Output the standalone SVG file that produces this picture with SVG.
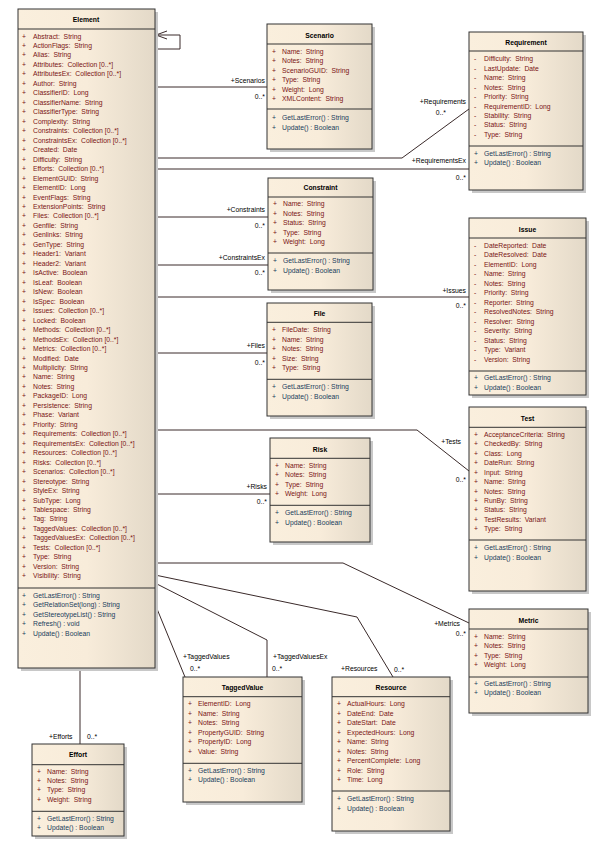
<svg xmlns="http://www.w3.org/2000/svg" width="601" height="844" viewBox="0 0 601 844">
<defs>
<linearGradient id="g" x1="0" y1="0" x2="1" y2="0"><stop offset="0" stop-color="#faefdd"/><stop offset="0.5" stop-color="#f8ecda"/><stop offset="1" stop-color="#e3d9c8"/></linearGradient>
<style>
text{font-family:"Liberation Sans",Arial,sans-serif;font-size:6.8px;dominant-baseline:central;white-space:pre}
.h{font-weight:bold;text-anchor:middle;fill:#000;font-size:6.8px}
.a{fill:#7a1414}
.o{fill:#1a3d5c}
.l{fill:#000}
.r{text-anchor:end}
.box{fill:url(#g);stroke:#333;stroke-width:1}
.sh{fill:#c8c8c8}
.d{stroke:#333;stroke-width:1}
.c{fill:none;stroke:#3a2a2a;stroke-width:1}
</style>
</defs>
<rect width="601" height="844" fill="#fff"/>
<g id="connectors">
<path class="c" d="M155,35 H180 V49 H155"/>
<path class="c" d="M167,31 L156,35 L167,39"/>
<path class="c" d="M155,87 H267"/>
<path class="c" d="M155,158 H402 L469,109"/>
<path class="c" d="M155,169 H469"/>
<path class="c" d="M155,217 H268"/>
<path class="c" d="M155,265 H268"/>
<path class="c" d="M155,297 H469"/>
<path class="c" d="M155,353 H267"/>
<path class="c" d="M155,430 H417 L469,471"/>
<path class="c" d="M155,494 H270"/>
<path class="c" d="M155,563 H343 L469,623"/>
<path class="c" d="M155,575 L357,617 L393,677"/>
<path class="c" d="M155,583 L267,640 V677"/>
<path class="c" d="M155,604 L185,677"/>
<path class="c" d="M80,668 V744"/>
<text class="l r" x="265" y="80">+Scenarios</text><text class="l r" x="265" y="96">0..*</text>
<text class="l r" x="466" y="101">+Requirements</text><text class="l r" x="446" y="112">0..*</text>
<text class="l r" x="466" y="160">+RequirementsEx</text><text class="l r" x="466" y="177">0..*</text>
<text class="l r" x="265" y="209">+Constraints</text><text class="l r" x="265" y="225">0..*</text>
<text class="l r" x="265" y="257">+ConstraintsEx</text><text class="l r" x="265" y="272">0..*</text>
<text class="l r" x="466" y="290">+Issues</text><text class="l r" x="466" y="305">0..*</text>
<text class="l r" x="265" y="345">+Files</text><text class="l r" x="265" y="362">0..*</text>
<text class="l r" x="461" y="441">+Tests</text><text class="l r" x="466" y="479">0..*</text>
<text class="l r" x="267" y="486">+Risks</text><text class="l r" x="267" y="501">0..*</text>
<text class="l r" x="460" y="623">+Metrics</text><text class="l r" x="466" y="633">0..*</text>
<text class="l" x="341" y="668">+Resources</text><text class="l" x="394" y="669">0..*</text>
<text class="l" x="273" y="656">+TaggedValuesEx</text><text class="l" x="272" y="668">0..*</text>
<text class="l" x="183" y="656">+TaggedValues</text><text class="l" x="190" y="668">0..*</text>
<text class="l" x="49" y="736">+Efforts</text><text class="l" x="87" y="736">0..*</text>
</g>
<g id="Element">
<rect class="sh" x="21" y="12" width="137" height="659"/>
<rect class="box" x="18" y="9" width="137" height="659"/>
<line class="d" x1="18" y1="29" x2="155" y2="29"/><line class="d" x1="18" y1="588" x2="155" y2="588"/>
<text class="h" x="86" y="19">Element</text>
<g class="a">
<text x="22" y="36">+</text><text x="33" y="36">Abstract:  String</text>
<text x="22" y="45.5">+</text><text x="33" y="45.5">ActionFlags:  String</text>
<text x="22" y="54.9">+</text><text x="33" y="54.9">Alias:  String</text>
<text x="22" y="64.4">+</text><text x="33" y="64.4">Attributes:  Collection [0..*]</text>
<text x="22" y="73.9">+</text><text x="33" y="73.9">AttributesEx:  Collection [0..*]</text>
<text x="22" y="83.4">+</text><text x="33" y="83.4">Author:  String</text>
<text x="22" y="92.8">+</text><text x="33" y="92.8">ClassifierID:  Long</text>
<text x="22" y="102.3">+</text><text x="33" y="102.3">ClassifierName:  String</text>
<text x="22" y="111.8">+</text><text x="33" y="111.8">ClassifierType:  String</text>
<text x="22" y="121.2">+</text><text x="33" y="121.2">Complexity:  String</text>
<text x="22" y="130.7">+</text><text x="33" y="130.7">Constraints:  Collection [0..*]</text>
<text x="22" y="140.2">+</text><text x="33" y="140.2">ConstraintsEx:  Collection [0..*]</text>
<text x="22" y="149.6">+</text><text x="33" y="149.6">Created:  Date</text>
<text x="22" y="159.1">+</text><text x="33" y="159.1">Difficulty:  String</text>
<text x="22" y="168.6">+</text><text x="33" y="168.6">Efforts:  Collection [0..*]</text>
<text x="22" y="178">+</text><text x="33" y="178">ElementGUID:  String</text>
<text x="22" y="187.5">+</text><text x="33" y="187.5">ElementID:  Long</text>
<text x="22" y="197">+</text><text x="33" y="197">EventFlags:  String</text>
<text x="22" y="206.5">+</text><text x="33" y="206.5">ExtensionPoints:  String</text>
<text x="22" y="215.9">+</text><text x="33" y="215.9">Files:  Collection [0..*]</text>
<text x="22" y="225.4">+</text><text x="33" y="225.4">Genfile:  String</text>
<text x="22" y="234.9">+</text><text x="33" y="234.9">Genlinks:  String</text>
<text x="22" y="244.3">+</text><text x="33" y="244.3">GenType:  String</text>
<text x="22" y="253.8">+</text><text x="33" y="253.8">Header1:  Variant</text>
<text x="22" y="263.3">+</text><text x="33" y="263.3">Header2:  Variant</text>
<text x="22" y="272.7">+</text><text x="33" y="272.7">IsActive:  Boolean</text>
<text x="22" y="282.2">+</text><text x="33" y="282.2">IsLeaf:  Boolean</text>
<text x="22" y="291.7">+</text><text x="33" y="291.7">IsNew:  Boolean</text>
<text x="22" y="301.1">+</text><text x="33" y="301.1">IsSpec:  Boolean</text>
<text x="22" y="310.6">+</text><text x="33" y="310.6">Issues:  Collection [0..*]</text>
<text x="22" y="320.1">+</text><text x="33" y="320.1">Locked:  Boolean</text>
<text x="22" y="329.6">+</text><text x="33" y="329.6">Methods:  Collection [0..*]</text>
<text x="22" y="339">+</text><text x="33" y="339">MethodsEx:  Collection [0..*]</text>
<text x="22" y="348.5">+</text><text x="33" y="348.5">Metrics:  Collection [0..*]</text>
<text x="22" y="358">+</text><text x="33" y="358">Modified:  Date</text>
<text x="22" y="367.4">+</text><text x="33" y="367.4">Multiplicity:  String</text>
<text x="22" y="376.9">+</text><text x="33" y="376.9">Name:  String</text>
<text x="22" y="386.4">+</text><text x="33" y="386.4">Notes:  String</text>
<text x="22" y="395.8">+</text><text x="33" y="395.8">PackageID:  Long</text>
<text x="22" y="405.3">+</text><text x="33" y="405.3">Persistence:  String</text>
<text x="22" y="414.8">+</text><text x="33" y="414.8">Phase:  Variant</text>
<text x="22" y="424.2">+</text><text x="33" y="424.2">Priority:  String</text>
<text x="22" y="433.7">+</text><text x="33" y="433.7">Requirements:  Collection [0..*]</text>
<text x="22" y="443.2">+</text><text x="33" y="443.2">RequirementsEx:  Collection [0..*]</text>
<text x="22" y="452.7">+</text><text x="33" y="452.7">Resources:  Collection [0..*]</text>
<text x="22" y="462.1">+</text><text x="33" y="462.1">Risks:  Collection [0..*]</text>
<text x="22" y="471.6">+</text><text x="33" y="471.6">Scenarios:  Collection [0..*]</text>
<text x="22" y="481.1">+</text><text x="33" y="481.1">Stereotype:  String</text>
<text x="22" y="490.5">+</text><text x="33" y="490.5">StyleEx:  String</text>
<text x="22" y="500">+</text><text x="33" y="500">SubType:  Long</text>
<text x="22" y="509.5">+</text><text x="33" y="509.5">Tablespace:  String</text>
<text x="22" y="518.9">+</text><text x="33" y="518.9">Tag:  String</text>
<text x="22" y="528.4">+</text><text x="33" y="528.4">TaggedValues:  Collection [0..*]</text>
<text x="22" y="537.9">+</text><text x="33" y="537.9">TaggedValuesEx:  Collection [0..*]</text>
<text x="22" y="547.3">+</text><text x="33" y="547.3">Tests:  Collection [0..*]</text>
<text x="22" y="556.8">+</text><text x="33" y="556.8">Type:  String</text>
<text x="22" y="566.3">+</text><text x="33" y="566.3">Version:  String</text>
<text x="22" y="575.8">+</text><text x="33" y="575.8">Visibility:  String</text>
</g>
<g class="o">
<text x="22" y="595.7">+</text><text x="33" y="595.7">GetLastError() : String</text>
<text x="22" y="604.7">+</text><text x="33" y="604.7">GetRelationSet(long) : String</text>
<text x="22" y="614.3">+</text><text x="33" y="614.3">GetStereotypeList() : String</text>
<text x="22" y="623.3">+</text><text x="33" y="623.3">Refresh() : void</text>
<text x="22" y="633.3">+</text><text x="33" y="633.3">Update() : Boolean</text>
</g>
</g>
<g id="Scenario">
<rect class="sh" x="270" y="27" width="105" height="125"/>
<rect class="box" x="267" y="24" width="105" height="125"/>
<line class="d" x1="267" y1="44" x2="372" y2="44"/><line class="d" x1="267" y1="109" x2="372" y2="109"/>
<text class="h" x="319.5" y="35.7">Scenario</text>
<g class="a">
<text x="272" y="51.5">+</text><text x="282" y="51.5">Name:  String</text>
<text x="272" y="60.7">+</text><text x="282" y="60.7">Notes:  String</text>
<text x="272" y="70.3">+</text><text x="282" y="70.3">ScenarioGUID:  String</text>
<text x="272" y="79.7">+</text><text x="282" y="79.7">Type:  String</text>
<text x="272" y="89.3">+</text><text x="282" y="89.3">Weight:  Long</text>
<text x="272" y="98.3">+</text><text x="282" y="98.3">XMLContent:  String</text>
</g>
<g class="o">
<text x="272" y="117.7">+</text><text x="282" y="117.7">GetLastError() : String</text>
<text x="272" y="127.7">+</text><text x="282" y="127.7">Update() : Boolean</text>
</g>
</g>
<g id="Requirement">
<rect class="sh" x="472" y="35" width="114" height="158"/>
<rect class="box" x="469" y="32" width="114" height="158"/>
<line class="d" x1="469" y1="51" x2="583" y2="51"/><line class="d" x1="469" y1="146" x2="583" y2="146"/>
<text class="h" x="526" y="42.7">Requirement</text>
<g class="a">
<text x="474" y="58.3">-</text><text x="484" y="58.3">Difficulty:  String</text>
<text x="474" y="68">-</text><text x="484" y="68">LastUpdate:  Date</text>
<text x="474" y="77">-</text><text x="484" y="77">Name:  String</text>
<text x="474" y="87">-</text><text x="484" y="87">Notes:  String</text>
<text x="474" y="96">-</text><text x="484" y="96">Priority:  String</text>
<text x="474" y="106">-</text><text x="484" y="106">RequirementID:  Long</text>
<text x="474" y="115">-</text><text x="484" y="115">Stability:  String</text>
<text x="474" y="124.7">-</text><text x="484" y="124.7">Status:  String</text>
<text x="474" y="134">-</text><text x="484" y="134">Type:  String</text>
</g>
<g class="o">
<text x="474" y="153.3">+</text><text x="484" y="153.3">GetLastError() : String</text>
<text x="474" y="162.3">+</text><text x="484" y="162.3">Update() : Boolean</text>
</g>
</g>
<g id="Constraint">
<rect class="sh" x="271" y="181" width="105" height="112"/>
<rect class="box" x="268" y="178" width="105" height="112"/>
<line class="d" x1="268" y1="197" x2="373" y2="197"/><line class="d" x1="268" y1="253" x2="373" y2="253"/>
<text class="h" x="320.5" y="187.7">Constraint</text>
<g class="a">
<text x="273" y="203.7">+</text><text x="283" y="203.7">Name:  String</text>
<text x="273" y="213.3">+</text><text x="283" y="213.3">Notes:  String</text>
<text x="273" y="222.7">+</text><text x="283" y="222.7">Status:  String</text>
<text x="273" y="232.3">+</text><text x="283" y="232.3">Type:  String</text>
<text x="273" y="241.7">+</text><text x="283" y="241.7">Weight:  Long</text>
</g>
<g class="o">
<text x="273" y="260.3">+</text><text x="283" y="260.3">GetLastError() : String</text>
<text x="273" y="270.3">+</text><text x="283" y="270.3">Update() : Boolean</text>
</g>
</g>
<g id="Issue">
<rect class="sh" x="472" y="221" width="117" height="177"/>
<rect class="box" x="469" y="218" width="117" height="177"/>
<line class="d" x1="469" y1="238" x2="586" y2="238"/><line class="d" x1="469" y1="371" x2="586" y2="371"/>
<text class="h" x="527.5" y="229">Issue</text>
<g class="a">
<text x="474" y="245">-</text><text x="484" y="245">DateReported:  Date</text>
<text x="474" y="254.3">-</text><text x="484" y="254.3">DateResolved:  Date</text>
<text x="474" y="264">-</text><text x="484" y="264">ElementID:  Long</text>
<text x="474" y="273.3">-</text><text x="484" y="273.3">Name:  String</text>
<text x="474" y="283">-</text><text x="484" y="283">Notes:  String</text>
<text x="474" y="292.3">-</text><text x="484" y="292.3">Priority:  String</text>
<text x="474" y="302.3">-</text><text x="484" y="302.3">Reporter:  String</text>
<text x="474" y="311.3">-</text><text x="484" y="311.3">ResolvedNotes:  String</text>
<text x="474" y="321">-</text><text x="484" y="321">Resolver:  String</text>
<text x="474" y="330.3">-</text><text x="484" y="330.3">Severity:  String</text>
<text x="474" y="340.3">-</text><text x="484" y="340.3">Status:  String</text>
<text x="474" y="349.3">-</text><text x="484" y="349.3">Type:  Variant</text>
<text x="474" y="359.7">-</text><text x="484" y="359.7">Version:  String</text>
</g>
<g class="o">
<text x="474" y="377.7">+</text><text x="484" y="377.7">GetLastError() : String</text>
<text x="474" y="387.7">+</text><text x="484" y="387.7">Update() : Boolean</text>
</g>
</g>
<g id="File">
<rect class="sh" x="270" y="306" width="105" height="113"/>
<rect class="box" x="267" y="303" width="105" height="113"/>
<line class="d" x1="267" y1="322.3" x2="372" y2="322.3"/><line class="d" x1="267" y1="379.3" x2="372" y2="379.3"/>
<text class="h" x="319.5" y="313.3">File</text>
<g class="a">
<text x="272" y="329.3">+</text><text x="282" y="329.3">FileDate:  String</text>
<text x="272" y="339.3">+</text><text x="282" y="339.3">Name:  String</text>
<text x="272" y="348.3">+</text><text x="282" y="348.3">Notes:  String</text>
<text x="272" y="358.3">+</text><text x="282" y="358.3">Size:  String</text>
<text x="272" y="367.3">+</text><text x="282" y="367.3">Type:  String</text>
</g>
<g class="o">
<text x="272" y="386.3">+</text><text x="282" y="386.3">GetLastError() : String</text>
<text x="272" y="396.3">+</text><text x="282" y="396.3">Update() : Boolean</text>
</g>
</g>
<g id="Test">
<rect class="sh" x="472" y="410" width="117" height="184"/>
<rect class="box" x="469" y="407" width="117" height="184"/>
<line class="d" x1="469" y1="427.3" x2="586" y2="427.3"/><line class="d" x1="469" y1="540" x2="586" y2="540"/>
<text class="h" x="527.5" y="418.3">Test</text>
<g class="a">
<text x="474" y="434.3">+</text><text x="484" y="434.3">AcceptanceCriteria:  String</text>
<text x="474" y="443.7">+</text><text x="484" y="443.7">CheckedBy:  String</text>
<text x="474" y="453.3">+</text><text x="484" y="453.3">Class:  Long</text>
<text x="474" y="462.3">+</text><text x="484" y="462.3">DateRun:  String</text>
<text x="474" y="472.3">+</text><text x="484" y="472.3">Input:  String</text>
<text x="474" y="481.3">+</text><text x="484" y="481.3">Name:  String</text>
<text x="474" y="491.3">+</text><text x="484" y="491.3">Notes:  String</text>
<text x="474" y="500.3">+</text><text x="484" y="500.3">RunBy:  String</text>
<text x="474" y="509.3">+</text><text x="484" y="509.3">Status:  String</text>
<text x="474" y="519.3">+</text><text x="484" y="519.3">TestResults:  Variant</text>
<text x="474" y="528.3">+</text><text x="484" y="528.3">Type:  String</text>
</g>
<g class="o">
<text x="474" y="547.3">+</text><text x="484" y="547.3">GetLastError() : String</text>
<text x="474" y="557.3">+</text><text x="484" y="557.3">Update() : Boolean</text>
</g>
</g>
<g id="Risk">
<rect class="sh" x="273" y="441" width="100" height="104"/>
<rect class="box" x="270" y="438" width="100" height="104"/>
<line class="d" x1="270" y1="458.3" x2="370" y2="458.3"/><line class="d" x1="270" y1="505.3" x2="370" y2="505.3"/>
<text class="h" x="320" y="449.3">Risk</text>
<g class="a">
<text x="275" y="465.3">+</text><text x="285" y="465.3">Name:  String</text>
<text x="275" y="474.3">+</text><text x="285" y="474.3">Notes:  String</text>
<text x="275" y="484.3">+</text><text x="285" y="484.3">Type:  String</text>
<text x="275" y="493.3">+</text><text x="285" y="493.3">Weight:  Long</text>
</g>
<g class="o">
<text x="275" y="512.3">+</text><text x="285" y="512.3">GetLastError() : String</text>
<text x="275" y="522.3">+</text><text x="285" y="522.3">Update() : Boolean</text>
</g>
</g>
<g id="Metric">
<rect class="sh" x="472" y="612" width="119" height="104"/>
<rect class="box" x="469" y="609" width="119" height="104"/>
<line class="d" x1="469" y1="629" x2="588" y2="629"/><line class="d" x1="469" y1="677" x2="588" y2="677"/>
<text class="h" x="528.5" y="620.7">Metric</text>
<g class="a">
<text x="474" y="636.7">+</text><text x="484" y="636.7">Name:  String</text>
<text x="474" y="645.7">+</text><text x="484" y="645.7">Notes:  String</text>
<text x="474" y="655.7">+</text><text x="484" y="655.7">Type:  String</text>
<text x="474" y="664.7">+</text><text x="484" y="664.7">Weight:  Long</text>
</g>
<g class="o">
<text x="474" y="683.3">+</text><text x="484" y="683.3">GetLastError() : String</text>
<text x="474" y="692.3">+</text><text x="484" y="692.3">Update() : Boolean</text>
</g>
</g>
<g id="TaggedValue">
<rect class="sh" x="186" y="680" width="119" height="125"/>
<rect class="box" x="183" y="677" width="119" height="125"/>
<line class="d" x1="183" y1="696.7" x2="302" y2="696.7"/><line class="d" x1="183" y1="763.3" x2="302" y2="763.3"/>
<text class="h" x="242.5" y="687.3">TaggedValue</text>
<g class="a">
<text x="188" y="703.3">+</text><text x="198" y="703.3">ElementID:  Long</text>
<text x="188" y="713.3">+</text><text x="198" y="713.3">Name:  String</text>
<text x="188" y="722.3">+</text><text x="198" y="722.3">Notes:  String</text>
<text x="188" y="732.3">+</text><text x="198" y="732.3">PropertyGUID:  String</text>
<text x="188" y="741.3">+</text><text x="198" y="741.3">PropertyID:  Long</text>
<text x="188" y="751.3">+</text><text x="198" y="751.3">Value:  String</text>
</g>
<g class="o">
<text x="188" y="770.3">+</text><text x="198" y="770.3">GetLastError() : String</text>
<text x="188" y="779.3">+</text><text x="198" y="779.3">Update() : Boolean</text>
</g>
</g>
<g id="Resource">
<rect class="sh" x="335" y="680" width="118" height="154"/>
<rect class="box" x="332" y="677" width="118" height="154"/>
<line class="d" x1="332" y1="696.7" x2="450" y2="696.7"/><line class="d" x1="332" y1="791" x2="450" y2="791"/>
<text class="h" x="391" y="687.3">Resource</text>
<g class="a">
<text x="337" y="703.3">+</text><text x="347" y="703.3">ActualHours:  Long</text>
<text x="337" y="713.3">+</text><text x="347" y="713.3">DateEnd:  Date</text>
<text x="337" y="722.3">+</text><text x="347" y="722.3">DateStart:  Date</text>
<text x="337" y="732.3">+</text><text x="347" y="732.3">ExpectedHours:  Long</text>
<text x="337" y="741.3">+</text><text x="347" y="741.3">Name:  String</text>
<text x="337" y="751.3">+</text><text x="347" y="751.3">Notes:  String</text>
<text x="337" y="760.3">+</text><text x="347" y="760.3">PercentComplete:  Long</text>
<text x="337" y="770.3">+</text><text x="347" y="770.3">Role:  String</text>
<text x="337" y="779.3">+</text><text x="347" y="779.3">Time:  Long</text>
</g>
<g class="o">
<text x="337" y="798.3">+</text><text x="347" y="798.3">GetLastError() : String</text>
<text x="337" y="808.3">+</text><text x="347" y="808.3">Update() : Boolean</text>
</g>
</g>
<g id="Effort">
<rect class="sh" x="35" y="747" width="92" height="92"/>
<rect class="box" x="32" y="744" width="92" height="92"/>
<line class="d" x1="32" y1="764.7" x2="124" y2="764.7"/><line class="d" x1="32" y1="811.3" x2="124" y2="811.3"/>
<text class="h" x="78" y="754.3">Effort</text>
<g class="a">
<text x="37" y="771.3">+</text><text x="47" y="771.3">Name:  String</text>
<text x="37" y="780.3">+</text><text x="47" y="780.3">Notes:  String</text>
<text x="37" y="789.3">+</text><text x="47" y="789.3">Type:  String</text>
<text x="37" y="799.3">+</text><text x="47" y="799.3">Weight:  String</text>
</g>
<g class="o">
<text x="37" y="818.3">+</text><text x="47" y="818.3">GetLastError() : String</text>
<text x="37" y="827.3">+</text><text x="47" y="827.3">Update() : Boolean</text>
</g>
</g>
</svg>
